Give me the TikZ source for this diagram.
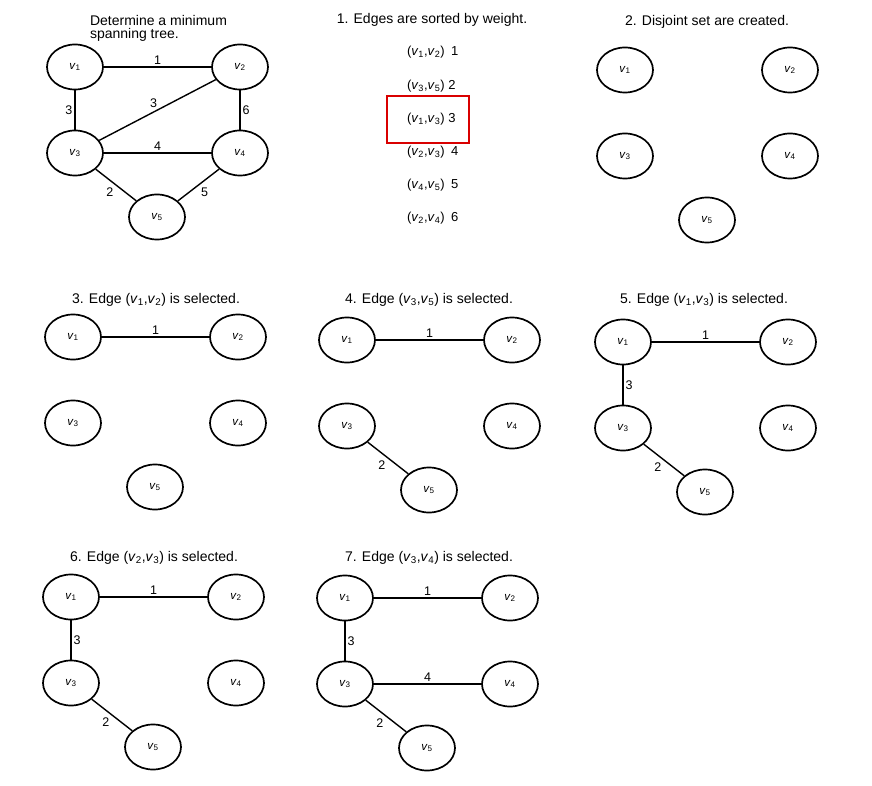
\documentclass[tikz,border=0pt]{standalone}
\usepackage{fontspec}
\setmainfont{Liberation Sans}
\usepackage{tikz}
\usetikzlibrary{shapes.geometric}

\newcommand{\vx}[1]{\textit{v}\textsubscript{#1}}

\begin{document}
\begin{tikzpicture}[x=1pt, y=-1pt, line width=1.4pt,
  vertex/.style={draw, ellipse, line width=1.7pt, minimum width=56pt, minimum height=45pt, inner sep=0pt, font=\fontsize{11.5}{13}\selectfont},
  weight/.style={font=\fontsize{12.5}{14}\selectfont, inner sep=2pt},
  caption/.style={font=\fontsize{14}{13}\selectfont},
  entry/.style={anchor=west, font=\fontsize{13}{14}\selectfont}]

\useasboundingbox (0,0) rectangle (872,786);

% draw the given graph
\node[caption, anchor=north west, align=left] (title0) at (86,11) {Determine a minimum\\spanning tree.};
\begin{scope}[shift={(75,67)}]
\node[vertex] (a1) at (0,0) {\vx{1}};
\node[vertex] (a2) at (165,0) {\vx{2}};
\node[vertex] (a3) at (0,86) {\vx{3}};
\node[vertex] (a4) at (165,86) {\vx{4}};
\node[vertex] (a5) at (82,150) {\vx{5}};
\draw (a1) -- node[weight, above] {1} (a2);
\draw (a1) -- node[weight, left] {3} (a3);
\draw (a3) -- node[weight, above, xshift=-4pt] {3} (a2);
\draw (a2) -- node[weight, right] {6} (a4);
\draw (a3) -- node[weight, above] {4} (a4);
\draw (a3) -- node[weight, below left] {2} (a5);
\draw (a4) -- node[weight, below right] {5} (a5);
\end{scope}

% draw sorted edge list
\node[caption] (title1) at (432,20) {1. Edges are sorted by weight.};
\node[entry] (e1) at (403,52) {(\vx{1},\vx{2})\enspace 1};
\node[entry] (e2) at (403,86) {(\vx{3},\vx{5}) 2};
\node[entry] (e3) at (403,119) {(\vx{1},\vx{3}) 3};
\node[entry] (e4) at (403,152) {(\vx{2},\vx{3})\enspace 4};
\node[entry] (e5) at (403,185) {(\vx{4},\vx{5})\enspace 5};
\node[entry] (e6) at (403,218) {(\vx{2},\vx{4})\enspace 6};
\draw[color=red!85!black, line width=1.3pt] (387,96) rectangle (469,143);

% draw disjoint sets
\node[caption] (title2) at (707,22) {2. Disjoint set are created.};
\begin{scope}[shift={(625,70)}]
\node[vertex] (b1) at (0,0) {\vx{1}};
\node[vertex] (b2) at (165,0) {\vx{2}};
\node[vertex] (b3) at (0,86) {\vx{3}};
\node[vertex] (b4) at (165,86) {\vx{4}};
\node[vertex] (b5) at (82,150) {\vx{5}};
\end{scope}

% draw step 3
\node[caption] (title3) at (156,300) {3. Edge (\vx{1},\vx{2}) is selected.};
\begin{scope}[shift={(73,337)}]
\node[vertex] (c1) at (0,0) {\vx{1}};
\node[vertex] (c2) at (165,0) {\vx{2}};
\node[vertex] (c3) at (0,86) {\vx{3}};
\node[vertex] (c4) at (165,86) {\vx{4}};
\node[vertex] (c5) at (82,150) {\vx{5}};
\draw (c1) -- node[weight, above] {1} (c2);
\end{scope}

% draw step 4
\node[caption] (title4) at (429,300) {4. Edge (\vx{3},\vx{5}) is selected.};
\begin{scope}[shift={(347,340)}]
\node[vertex] (d1) at (0,0) {\vx{1}};
\node[vertex] (d2) at (165,0) {\vx{2}};
\node[vertex] (d3) at (0,86) {\vx{3}};
\node[vertex] (d4) at (165,86) {\vx{4}};
\node[vertex] (d5) at (82,150) {\vx{5}};
\draw (d1) -- node[weight, above] {1} (d2);
\draw (d3) -- node[weight, below left] {2} (d5);
\end{scope}

% draw step 5
\node[caption] (title5) at (704,300) {5. Edge (\vx{1},\vx{3}) is selected.};
\begin{scope}[shift={(623,342)}]
\node[vertex] (f1) at (0,0) {\vx{1}};
\node[vertex] (f2) at (165,0) {\vx{2}};
\node[vertex] (f3) at (0,86) {\vx{3}};
\node[vertex] (f4) at (165,86) {\vx{4}};
\node[vertex] (f5) at (82,150) {\vx{5}};
\draw (f1) -- node[weight, above] {1} (f2);
\draw (f1) -- node[weight, right] {3} (f3);
\draw (f3) -- node[weight, below left] {2} (f5);
\end{scope}

% draw step 6
\node[caption] (title6) at (154,558) {6. Edge (\vx{2},\vx{3}) is selected.};
\begin{scope}[shift={(71,597)}]
\node[vertex] (g1) at (0,0) {\vx{1}};
\node[vertex] (g2) at (165,0) {\vx{2}};
\node[vertex] (g3) at (0,86) {\vx{3}};
\node[vertex] (g4) at (165,86) {\vx{4}};
\node[vertex] (g5) at (82,150) {\vx{5}};
\draw (g1) -- node[weight, above] {1} (g2);
\draw (g1) -- node[weight, right] {3} (g3);
\draw (g3) -- node[weight, below left] {2} (g5);
\end{scope}

% draw step 7
\node[caption] (title7) at (429,558) {7. Edge (\vx{3},\vx{4}) is selected.};
\begin{scope}[shift={(345,598)}]
\node[vertex] (h1) at (0,0) {\vx{1}};
\node[vertex] (h2) at (165,0) {\vx{2}};
\node[vertex] (h3) at (0,86) {\vx{3}};
\node[vertex] (h4) at (165,86) {\vx{4}};
\node[vertex] (h5) at (82,150) {\vx{5}};
\draw (h1) -- node[weight, above] {1} (h2);
\draw (h1) -- node[weight, right] {3} (h3);
\draw (h3) -- node[weight, above] {4} (h4);
\draw (h3) -- node[weight, below left] {2} (h5);
\end{scope}

\end{tikzpicture}
\end{document}
